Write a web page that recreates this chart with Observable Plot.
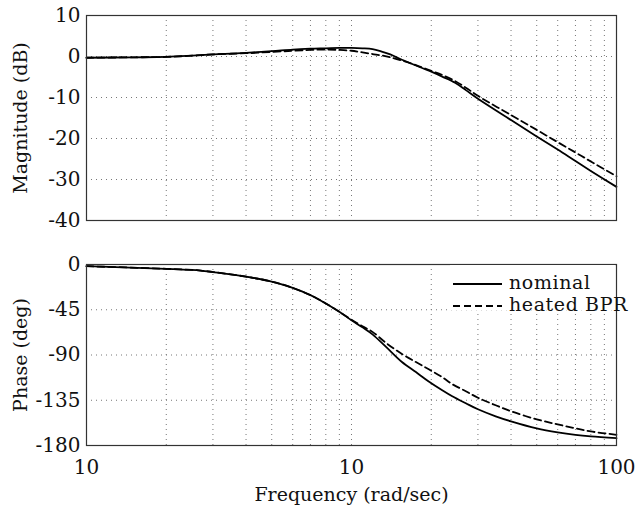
<!DOCTYPE html>
<html><head><meta charset="utf-8">
<script src="https://cdn.jsdelivr.net/npm/d3@7"></script>
<script src="https://cdn.jsdelivr.net/npm/@observablehq/plot@0.6"></script>
<style>
body{margin:0;background:#fff;}
#wrap{position:relative;width:637px;height:512px;font-family:"DejaVu Serif",serif;}
#wrap svg{display:block;}
#wrap g[aria-label="y-axis tick label"]{font-size:20px;}
#wrap g[aria-label="x-axis tick label"]{font-size:20px;}
#legend{position:absolute;left:450px;top:265px;width:165px;height:45px;background:#fff;font-size:19px;letter-spacing:0.6px;color:#111;}
#legend div{position:absolute;left:0;height:20px;line-height:20px;white-space:nowrap;}
#legend svg{display:inline-block;vertical-align:middle;}
</style></head><body><div id="wrap"></div>
<script>
// Frequency (rad/sec) sample points and values
const magFreqNominal = [1,1.5,2,2.5,3,4,5,6,7,8,9,10,11,12,13,14,15.5,17.5,20,22,24.6,27,30,40,50,60,70,80,100];
const magNominal     = [-0.3,-0.2,-0.1,0.2,0.5,0.9,1.3,1.7,1.9,2.0,2.1,2.1,2.0,1.8,1.2,0.5,-0.8,-2.2,-3.7,-4.9,-6.4,-8.2,-10.3,-15.5,-19.5,-22.7,-25.5,-27.9,-31.8];
const magFreqHeated  = [1,1.5,2,2.5,3,4,5,6,7,8,9,10,11,12,13,14,15.5,17.5,20,22,24.6,27,30,40,50,60,70,80,100];
const magHeated      = [-0.3,-0.2,-0.1,0.2,0.5,0.8,1.1,1.4,1.6,1.7,1.6,1.4,1.0,0.6,0.25,-0.2,-1.0,-2.1,-3.5,-4.5,-6.0,-7.6,-9.6,-14.3,-17.9,-20.9,-23.4,-25.6,-29.2];

const phFreqNominal = [1,2,2.7,3,4,5,5.5,6,6.5,7,7.5,8,9,10,11,12,13.5,15.5,17.5,19.5,22,24,27,30,35,40,50,60,70,80,100];
const phNominal     = [-1.7,-4.3,-6,-7.5,-12.1,-17,-20,-23.3,-26.8,-30.5,-34.5,-38.7,-47,-55.5,-62.5,-69.5,-82,-97,-107,-116,-125,-131,-138,-144,-151,-156,-163,-167,-169.5,-171,-172.7];
const phFreqHeated  = [1,2,2.7,3,4,5,5.5,6,6.5,7,7.5,8,9,10,11,12,13.5,15.5,17.5,19.5,22,24,27,30,35,40,50,60,70,80,100];
const phHeated      = [-1.7,-4.3,-6,-7.5,-12.1,-17,-20,-23.3,-26.8,-30.5,-34.5,-38.7,-47,-55,-61.5,-67,-78,-89,-97,-104,-112,-119,-126,-132.5,-140,-146,-154,-159,-163,-166,-169.4];

const xTicks = [1,10,100];
const xTickLabels = ["10","10","100"];
const xGrid = [2,3,4,5,6,7,8,9,10,20,30,40,50,60,70,80,90];
const magTicks = [-40,-30,-20,-10,0,10];
const magGrid = [-30,-20,-10,0];
const phTicks = [-180,-135,-90,-45,0];
const phGrid = [-180,-135,-90,-45,0];
const seriesNames = ["nominal","heated BPR"];

const toRows = (fs, vs) => fs.map((f,i) => ({f, v: vs[i]}));
const gridStyle = {stroke:"#777", strokeWidth:1, strokeDasharray:"1,4"};
const style = {fontFamily:"DejaVu Serif, serif", fontSize:"19px", color:"#111", background:"#fff", overflow:"visible"};
const plain = d => String(d);
const lineOpts = {x:"f", y:"v", stroke:"#000", strokeWidth:1.8, curve:"catmull-rom"};

const magPlot = Plot.plot({
  width:637, height:230, marginTop:15, marginBottom:10, marginLeft:86, marginRight:21,
  style,
  x:{type:"log", domain:[1,100], axis:null},
  y:{domain:[-40,10], ticks:magTicks, tickFormat:plain, tickSize:0, tickPadding:6, label:"Magnitude (dB)", labelAnchor:"center", labelArrow:"none", labelOffset:73},
  marks:[
    Plot.ruleX(xGrid, {x:d=>d, ...gridStyle}),
    Plot.ruleY(magGrid, {y:d=>d, ...gridStyle}),
    Plot.line(toRows(magFreqNominal, magNominal), lineOpts),
    Plot.line(toRows(magFreqHeated, magHeated), {...lineOpts, strokeDasharray:"7,4"}),
    Plot.frame({stroke:"#333", strokeWidth:1.2})
  ]
});

const phasePlot = Plot.plot({
  width:637, height:282, marginTop:34, marginBottom:67, marginLeft:86, marginRight:21,
  style,
  x:{type:"log", domain:[1,100], ticks:xTicks, tickFormat:d => xTickLabels[xTicks.indexOf(d)], tickSize:0, tickPadding:14, label:"Frequency (rad/sec)", labelAnchor:"center", labelArrow:"none", labelOffset:55},
  y:{domain:[-180,0], ticks:phTicks, tickFormat:plain, tickSize:0, tickPadding:6, label:"Phase (deg)", labelAnchor:"center", labelArrow:"none", labelOffset:73},
  marks:[
    Plot.ruleX(xGrid, {x:d=>d, ...gridStyle}),
    Plot.ruleY(phGrid, {y:d=>d, ...gridStyle}),
    Plot.line(toRows(phFreqNominal, phNominal), lineOpts),
    Plot.line(toRows(phFreqHeated, phHeated), {...lineOpts, strokeDasharray:"7,4"}),
    Plot.frame({stroke:"#333", strokeWidth:1.2})
  ]
});

const wrap = document.getElementById("wrap");
wrap.appendChild(magPlot);
wrap.appendChild(phasePlot);

const legend = document.createElement("div");
legend.id = "legend";
seriesNames.forEach((name, i) => {
  const row = document.createElement("div");
  row.style.top = (7 + i*22) + "px";
  const dash = i === 0 ? "" : ' stroke-dasharray="7,4"';
  row.innerHTML = `<svg width="54" height="20"><line x1="3" x2="52" y1="10" y2="10" stroke="#000" stroke-width="1.8"${dash}/></svg><span style="margin-left:5px">${name}</span>`;
  legend.appendChild(row);
});
wrap.appendChild(legend);
</script>
</body></html>
